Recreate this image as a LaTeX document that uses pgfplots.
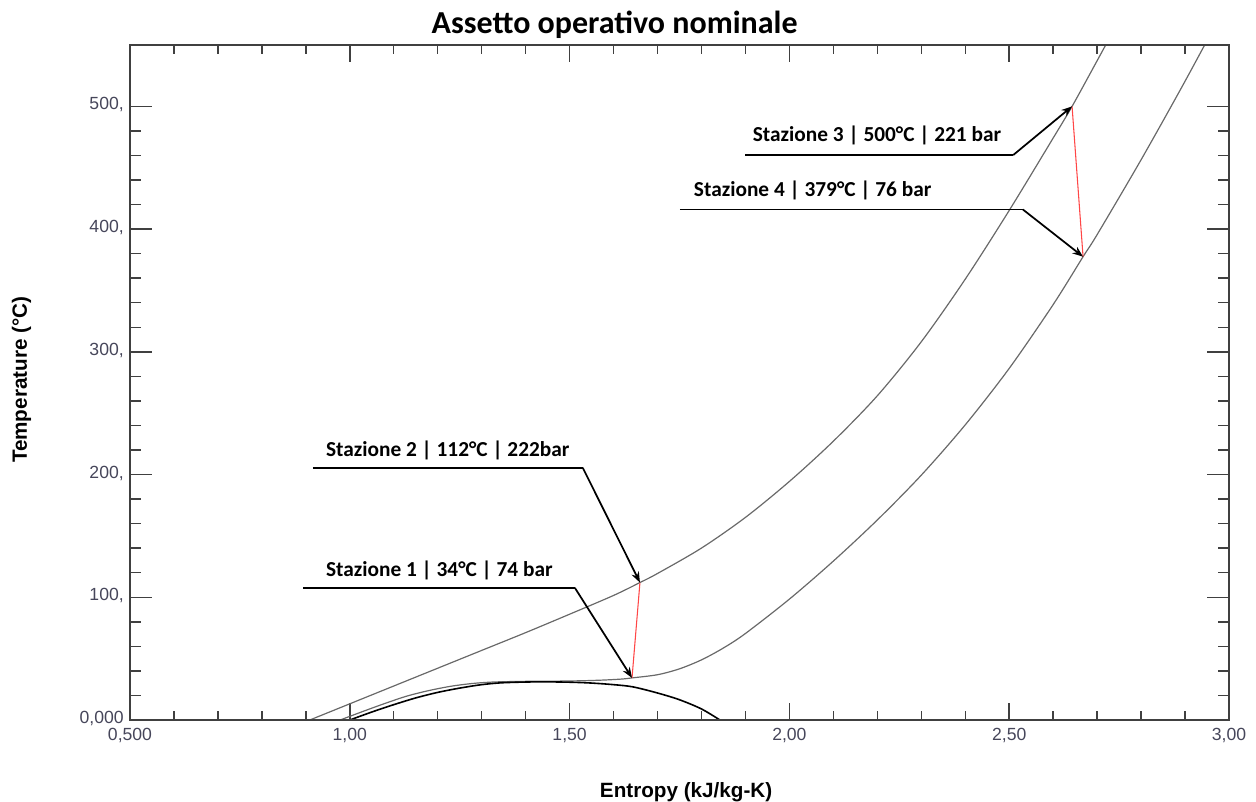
\documentclass[border=0pt]{standalone}
\usepackage{pgfplots}
\pgfplotsset{compat=1.18}
\usepackage{fontspec}
\setmainfont{Liberation Sans}
\newfontfamily\calibri{Carlito}
\usetikzlibrary{arrows.meta}

\definecolor{tickgray}{RGB}{70,70,90}
\definecolor{axgray}{RGB}{64,64,64}
\definecolor{isogray}{RGB}{105,105,105}
\definecolor{procred}{RGB}{255,70,70}

% tick label text (set in the text font, not in math)
\newcommand{\tl}[1]{\mbox{\fontsize{13.2pt}{15pt}\selectfont\color{tickgray}#1}}
\newcommand{\annfont}{\calibri\bfseries\fontsize{16pt}{19pt}\selectfont}

% isobar 222 bar (T in degC vs s in kJ/kg-K)
\pgfplotstableread{
s      T
0.909  0
1.000  13.2
1.100  27.7
1.200  42.2
1.300  56.7
1.400  71.2
1.500  86.2
1.600  101.5
1.660  112
1.700  119.4
1.800  140.1
1.900  165.1
2.000  194.4
2.100  227.2
2.200  264.2
2.300  308.2
2.400  359.2
2.500  415.2
2.600  474.2
2.643  500
2.700  537.2
2.800  603
}\isobarHigh

% isobar 74 bar
\pgfplotstableread{
s      T
0.978  0
1.030  7
1.080  13.5
1.130  19.5
1.180  24
1.230  27.5
1.280  29.8
1.330  31
1.400  31.5
1.450  31.6
1.500  31.8
1.540  32.1
1.580  32.6
1.620  33.4
1.642  34.3
1.700  36.9
1.750  41.7
1.800  49
1.850  58.7
1.900  70.5
2.000  98.5
2.100  129.5
2.200  163
2.300  199.5
2.400  240.5
2.500  286.5
2.600  338.5
2.668  377.5
2.700  395.5
2.800  456.5
2.900  520.5
3.000  587
}\isobarLow

% saturation dome
\pgfplotstableread{
s      T
1.000  0
1.050  6.5
1.100  12.5
1.150  18
1.200  22.5
1.250  26
1.300  28.8
1.350  30.4
1.430  31.1
1.500  30.8
1.550  30.1
1.600  28.8
1.644  27
1.700  22
1.750  16.5
1.800  9
1.842  0
}\dome

% process lines: compression 1-2 and expansion 3-4
\pgfplotstableread{
s      T
1.642  34.3
1.660  112
}\compression
\pgfplotstableread{
s      T
2.643  500
2.668  377.5
}\expansion

\begin{document}
\begin{tikzpicture}
\pgfplotsset{
  basis/.style={
    scale only axis, width=824.25pt, height=506.25pt,
    at={(0pt,0pt)}, anchor=south west,
    xmin=0.5, xmax=3.0, ymin=0, ymax=550,
    axis line style={axgray, line width=1.1pt},
    tick style={axgray, line width=1.1pt},
    tick align=inside, tick pos=both,
  }
}
\begin{axis}[basis,
  ytick=\empty,
  xtick={0.5,1,1.5,2,2.5,3},
  xticklabels={{\tl{0,500}},{\tl{1,00}},{\tl{1,50}},{\tl{2,00}},{\tl{2,50}},{\tl{3,00}}},
  minor x tick num=4,
  major tick length=12.75pt, minor tick length=6.5pt,
  xticklabel style={anchor=base, yshift=-15pt, inner sep=0pt},
  title={Assetto operativo nominale},
  title style={font=\calibri\bfseries\fontsize{24pt}{28pt}\selectfont,
    at={(rel axis cs:0.441,1)}, anchor=base, yshift=3pt, inner sep=0pt},
  xlabel={Entropy (kJ/kg-K)},
  xlabel style={font=\bfseries\fontsize{15.5pt}{18pt}\selectfont,
    at={(rel axis cs:0.506,0)}, anchor=base, yshift=-57.75pt, inner sep=0pt},
  ylabel={Temperature (°C)},
  ylabel style={font=\bfseries\fontsize{15.5pt}{18pt}\selectfont,
    at={(rel axis cs:0,0.504)}, anchor=base, yshift=77.25pt, inner sep=0pt},
]
\addplot[isogray, line width=0.9pt, smooth, tension=0.5] table {\isobarHigh};
\addplot[isogray, line width=0.9pt, smooth, tension=0.5] table {\isobarLow};
\addplot[black, line width=1.2pt, smooth, tension=0.5] table {\dome};
\addplot[procred, line width=0.8pt] table {\compression};
\addplot[procred, line width=0.8pt] table {\expansion};

% station callouts
\begin{scope}[line width=1.3pt, black, arr/.style={-{Stealth[length=8pt,width=6pt]}}]
\draw (0.894,107.7) -- (1.512,107.7);
\draw[arr] (1.512,107.7) -- (1.642,34.3);
\node[anchor=base west, inner sep=0pt, font=\annfont] at (0.944,116.6) {Stazione 1 | 34°C | 74 bar};

\draw (0.916,205.5) -- (1.530,205.5);
\draw[arr] (1.530,205.5) -- (1.660,112);
\node[anchor=base west, inner sep=0pt, font=\annfont] at (0.944,214.5) {Stazione 2 | 112°C | 222bar};

\draw (1.899,460.3) -- (2.509,460.3);
\draw[arr] (2.509,460.3) -- (2.643,500);
\node[anchor=base west, inner sep=0pt, font=\annfont] at (1.915,471.5) {Stazione 3 | 500°C | 221 bar};

\draw (1.751,416) -- (2.531,416);
\draw[arr] (2.531,416) -- (2.668,377.5);
\node[anchor=base west, inner sep=0pt, font=\annfont] at (1.781,426.6) {Stazione 4 | 379°C | 76 bar};
\end{scope}
\end{axis}

% second layer carrying the temperature ticks, which are longer than the entropy ticks
\begin{axis}[basis,
  xtick=\empty,
  ytick={0,100,200,300,400,500},
  yticklabels={{\tl{0,000}},{\tl{100,}},{\tl{200,}},{\tl{300,}},{\tl{400,}},{\tl{500,}}},
  minor y tick num=4,
  major tick length=16.5pt, minor tick length=8.5pt,
  yticklabel style={anchor=mid east, xshift=-4.5pt, inner sep=0pt},
]
\end{axis}

\pgfresetboundingbox
\path[use as bounding box] (-97.5pt,-60.75pt) rectangle (844.5pt,540pt);
\end{tikzpicture}
\end{document}
